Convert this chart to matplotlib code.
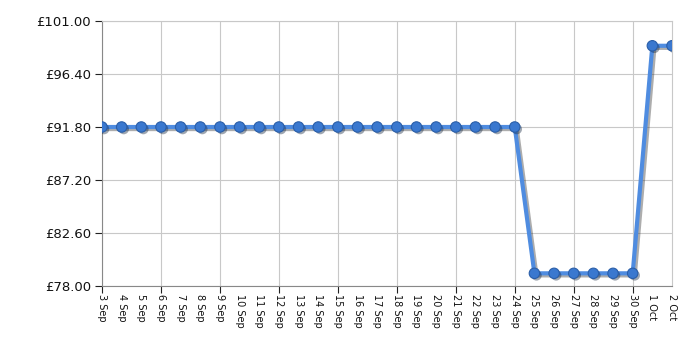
import matplotlib
matplotlib.use("Agg")
import matplotlib.pyplot as plt
import matplotlib.patheffects as pe

# price history
dates = ["3 Sep", "4 Sep", "5 Sep", "6 Sep", "7 Sep", "8 Sep", "9 Sep", "10 Sep",
         "11 Sep", "12 Sep", "13 Sep", "14 Sep", "15 Sep", "16 Sep", "17 Sep", "18 Sep",
         "19 Sep", "20 Sep", "21 Sep", "22 Sep", "23 Sep", "24 Sep", "25 Sep", "26 Sep",
         "27 Sep", "28 Sep", "29 Sep", "30 Sep", "1 Oct", "2 Oct"]
prices = [91.80] * 22 + [79.10] * 6 + [98.85] * 2
yticks = [78.00, 82.60, 87.20, 91.80, 96.40, 101.00]

fig = plt.figure(figsize=(7, 3.5), dpi=100)
ax = fig.add_axes([102 / 700, 1 - 286 / 350, 570 / 700, 265 / 350])

x = list(range(len(dates)))
shadow = [pe.SimpleLineShadow(offset=(1.5, -1.5), shadow_color="#333333", alpha=0.4), pe.Normal()]
ax.plot(x, prices, color="#4f8ce0", lw=3, zorder=3, path_effects=shadow)
ax.plot(x, prices, ls="none", zorder=4, marker="o", ms=7.5,
        mfc="#3a78cf", mec="#2a5ea8", mew=0.8,
        path_effects=[pe.withSimplePatchShadow(offset=(1.5, -1.5), alpha=0.4)])

ax.set_xlim(0, len(dates) - 1)
ax.set_ylim(78, 101)
ax.set_yticks(yticks)
ax.set_yticklabels(["£%.2f" % v for v in yticks], fontsize=9.5, color="#111111")

# every third day gets a grid line and a tick mark, every day gets a label
major = [i for i in x if i % 3 == 0]
ax.xaxis.remove_overlapping_locs = False
ax.set_xticks(major)
ax.set_xticklabels([""] * len(major))
ax.set_xticks(x, minor=True)
ax.set_xticklabels(dates, minor=True, rotation=270, fontsize=7, color="#111111")
ax.tick_params(axis="x", which="major", length=5, color="#222222", direction="out")
ax.tick_params(axis="x", which="minor", length=0, pad=6)
ax.tick_params(axis="y", length=5, color="#222222", pad=3)
ax.grid(True, which="major", color="#c8c8c8", lw=0.8)
ax.set_axisbelow(True)

ax.spines["left"].set_color("#888888")
ax.spines["bottom"].set_color("#888888")
ax.spines["top"].set_color("#c8c8c8")
ax.spines["right"].set_color("#c8c8c8")
for s in ax.spines.values():
    s.set_linewidth(0.8)

fig.savefig("out.png", dpi=100)
